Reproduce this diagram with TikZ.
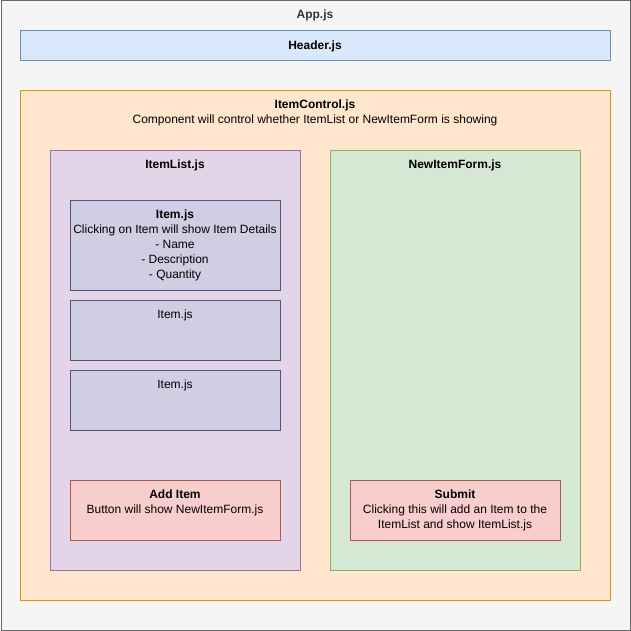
\documentclass[tikz,border=0pt]{standalone}
\usepackage{fontspec}
\setmainfont{Liberation Sans}
\usepackage{xcolor}
\definecolor{appfill}{HTML}{F5F5F5}
\definecolor{appline}{HTML}{666666}
\definecolor{apptext}{HTML}{333333}
\definecolor{headfill}{HTML}{DAE8FC}
\definecolor{headline}{HTML}{6C8EBF}
\definecolor{ctrlfill}{HTML}{FFE6CC}
\definecolor{ctrlline}{HTML}{D79B00}
\definecolor{listfill}{HTML}{E1D5E7}
\definecolor{listline}{HTML}{9673A6}
\definecolor{formfill}{HTML}{D5E8D4}
\definecolor{formline}{HTML}{82B366}
\definecolor{itemfill}{HTML}{D0CEE2}
\definecolor{itemline}{HTML}{56517E}
\definecolor{btnfill}{HTML}{F8CECC}
\definecolor{btnline}{HTML}{B85450}

\begin{document}
\begin{tikzpicture}[x=1pt, y=-1pt,
		box/.style={draw, rectangle, anchor=north west, inner sep=0pt, line width=0.8pt},
		txt/.style={inner sep=0pt, align=center, font=\fontsize{12}{15}\selectfont}]
		\useasboundingbox (0,0) rectangle (631,631);
		% containers
		\node[box, fill=appfill, draw=appline, minimum width=629.5pt, minimum height=629.5pt] (app) at (0.5,0.5) {};
		\node[box, fill=headfill, draw=headline, minimum width=590pt, minimum height=30pt] (header) at (20,30) {};
		\node[box, fill=ctrlfill, draw=ctrlline, minimum width=590pt, minimum height=510pt] (control) at (20,90) {};
		\node[box, fill=listfill, draw=listline, minimum width=250pt, minimum height=420pt] (list) at (50,150) {};
		\node[box, fill=formfill, draw=formline, minimum width=250pt, minimum height=420pt] (form) at (330,150) {};
		\node[box, fill=itemfill, draw=itemline, minimum width=210pt, minimum height=90pt] (item1) at (70,200) {};
		\node[box, fill=itemfill, draw=itemline, minimum width=210pt, minimum height=60pt] (item2) at (70,300) {};
		\node[box, fill=itemfill, draw=itemline, minimum width=210pt, minimum height=60pt] (item3) at (70,370) {};
		\node[box, fill=btnfill, draw=btnline, minimum width=210pt, minimum height=60pt] (additem) at (70,480) {};
		\node[box, fill=btnfill, draw=btnline, minimum width=210pt, minimum height=60pt] (submit) at (350,480) {};
		% labels
		\node[txt, text=apptext] (applabel) at (315,15.5) {\textbf{App.js}};
		\node[txt] (headlabel) at (315,46.5) {\textbf{Header.js}};
		\node[txt] (ctrllabel) at (315,113) {\textbf{ItemControl.js}\\Component will control whether ItemList or NewItemForm is showing};
		\node[txt] (listlabel) at (175,165.5) {\textbf{ItemList.js}};
		\node[txt] (formlabel) at (455,165.5) {\textbf{NewItemForm.js}};
		\node[txt] (item1label) at (175,245.5) {\textbf{Item.js}\\Clicking on Item will show Item Details\\- Name\\- Description\\- Quantity};
		\node[txt] (item2label) at (175,315.5) {Item.js};
		\node[txt] (item3label) at (175,385.5) {Item.js};
		\node[txt] (addlabel) at (175,503) {\textbf{Add Item}\\Button will show NewItemForm.js};
		\node[txt] (submitlabel) at (455,510.5) {\textbf{Submit}\\Clicking this will add an Item to the\\ItemList and show ItemList.js};
	\end{tikzpicture}
\end{document}
